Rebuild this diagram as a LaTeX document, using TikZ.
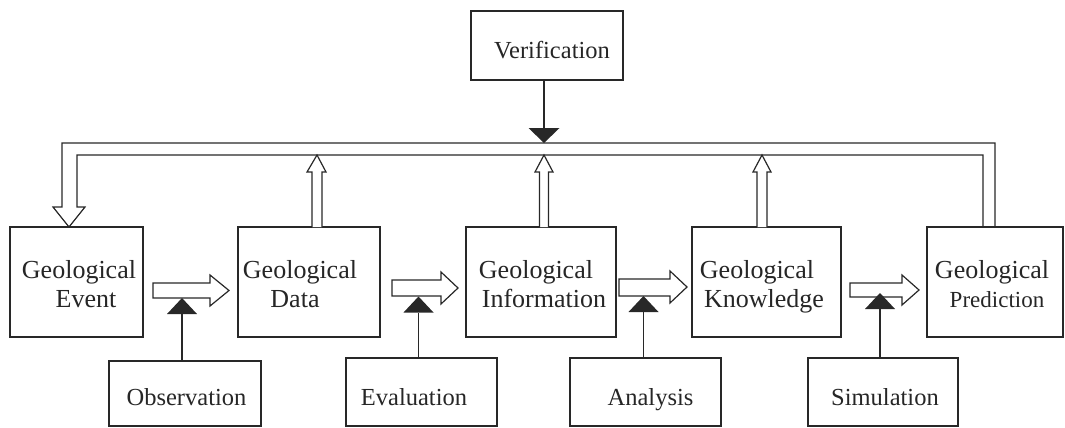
\documentclass[tikz,border=0pt]{standalone}
\usepackage{fontspec}
\setmainfont{Liberation Serif}
\newfontfamily\serf{Liberation Serif}
\usetikzlibrary{arrows.meta}
\definecolor{ln}{RGB}{40,40,40}
\begin{document}
\begin{tikzpicture}[x=1pt,y=-1pt,
  box/.style={draw=ln,line width=1.2pt,rectangle,outer sep=0pt,inner sep=0pt},
  geo/.style={font=\serf\fontsize{26}{30}\selectfont,anchor=base,inner sep=0pt,text=black!85},
  sml/.style={font=\serf\fontsize{24.5}{28}\selectfont,anchor=base,inner sep=0pt,text=black!85},
  prd/.style={font=\serf\fontsize{23}{27}\selectfont,anchor=base,inner sep=0pt,text=black!85},
  hollow/.style={draw=ln,line width=1.2pt,fill=white,line join=miter},
  tri/.style={draw=ln,line width=1.2pt,-{Triangle[width=30pt,length=16pt,line width=0pt]}}]
\useasboundingbox (0,0) rectangle (1065,428);

% main boxes
\node[box,minimum width=133,minimum height=110] (event) at (76.5,282) {};
\node[box,minimum width=142,minimum height=110] (data) at (309,282) {};
\node[box,minimum width=150,minimum height=110] (info) at (541,282) {};
\node[box,minimum width=149,minimum height=110] (know) at (766.5,282) {};
\node[box,minimum width=136,minimum height=110] (pred) at (995,282) {};

% texts of main boxes
\node[geo] (t1a) at (79,278) {Geological};
\node[geo] (t1b) at (86,307) {Event};
\node[geo] (t2a) at (300,278) {Geological};
\node[geo] (t2b) at (295,307) {Data};
\node[geo] (t3a) at (536,278) {Geological};
\node[geo] (t3b) at (544,307) {Information};
\node[geo] (t4a) at (757,278) {Geological};
\node[geo] (t4b) at (764,307) {Knowledge};
\node[geo] (t5a) at (992,278) {Geological};
\node[prd] (t5b) at (997,307) {Prediction};

% verification box
\node[box,minimum width=152,minimum height=69] (ver) at (547,45.5) {};
\node[sml] (tv) at (552,59) {Verification};

% bottom boxes
\node[box,minimum width=152,minimum height=65] (obs) at (185,393.5) {};
\node[box,minimum width=151,minimum height=68] (eval) at (421.5,392) {};
\node[box,minimum width=151,minimum height=68] (ana) at (645.5,392) {};
\node[box,minimum width=150,minimum height=68] (sim) at (883,392) {};
\node[sml] (to) at (186.5,405) {Observation};
\node[sml] (te) at (414,405) {Evaluation};
\node[sml] (ta) at (650.5,405) {Analysis};
\node[sml] (ts) at (885,405) {Simulation};

% feedback band with down arrow into Geological Event
\draw[hollow,fill=none] (995,0 |- pred.north) -- (995,143) -- (62,143) -- (62,207)
  -- (53,207) -- (69,0 |- event.north) -- (85,207) -- (77,207) -- (77,155)
  -- (983,155) -- (983,0 |- pred.north);

% up arrows into the band
\draw[hollow] (312,0 |- data.north) -- (312,172) -- (307,172) -- (317,155) -- (326,172) -- (322,172) -- (322,0 |- data.north);
\draw[hollow] (539.5,0 |- info.north) -- (539.5,172) -- (535,172) -- (544,155) -- (553,172) -- (548.5,172) -- (548.5,0 |- info.north);
\draw[hollow] (757,0 |- know.north) -- (757,172) -- (753,172) -- (762,155) -- (771,172) -- (767,172) -- (767,0 |- know.north);

% verification arrow onto the band
\coordinate (vtip) at (544,143);
\draw[tri,-{Triangle[width=31pt,length=15pt,line width=0pt]}] (vtip |- ver.south) -- (vtip);

% hollow block arrows between boxes
\draw[hollow] (153,283) -- (210,283) -- (210,275) -- (229,290.5) -- (210,306) -- (210,298) -- (153,298) -- cycle;
\draw[hollow] (392,280) -- (441,280) -- (441,272) -- (458,288) -- (441,304) -- (441,296) -- (392,296) -- cycle;
\draw[hollow] (619,279) -- (670,279) -- (670,271) -- (687,287) -- (670,303) -- (670,296) -- (619,296) -- cycle;
\draw[hollow] (850,283) -- (902,283) -- (902,275) -- (919,290) -- (902,305) -- (902,297) -- (850,297) -- cycle;

% control triangles
\coordinate (a1) at (182,298);
\coordinate (a2) at (418.5,296.5);
\coordinate (a3) at (643.5,296);
\coordinate (a4) at (880,293);
\draw[tri] (a1 |- obs.north) -- (a1);
\draw[tri] (a2 |- eval.north) -- (a2);
\draw[tri] (a3 |- ana.north) -- (a3);
\draw[tri] (a4 |- sim.north) -- (a4);
\end{tikzpicture}
\end{document}
